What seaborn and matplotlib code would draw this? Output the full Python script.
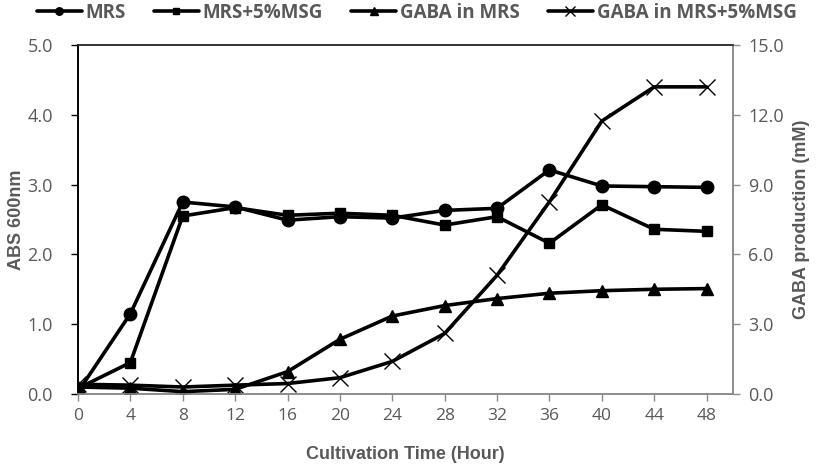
import numpy as np
import matplotlib
matplotlib.use("Agg")
import matplotlib.pyplot as plt
import seaborn as sns
from matplotlib.ticker import FormatStrFormatter

# data
hours = [0, 4, 8, 12, 16, 20, 24, 28, 32, 36, 40, 44, 48]
abs_mrs = [0.03, 1.15, 2.75, 2.68, 2.49, 2.54, 2.52, 2.63, 2.66, 3.21, 2.98, 2.97, 2.96]
abs_msg = [0.08, 0.45, 2.55, 2.67, 2.56, 2.59, 2.56, 2.42, 2.54, 2.16, 2.71, 2.36, 2.33]
gaba_mrs = [0.30, 0.25, 0.10, 0.20, 0.96, 2.35, 3.35, 3.80, 4.10, 4.33, 4.44, 4.50, 4.53]
gaba_msg = [0.42, 0.38, 0.30, 0.38, 0.45, 0.70, 1.40, 2.60, 5.10, 8.26, 11.73, 13.20, 13.20]

sns.set_style("white")
plt.rcParams["font.family"] = ["Open Sans", "DejaVu Sans"]

TICK_GRAY = "#595959"
LABEL_GRAY = "#595959"
SPINE_GRAY = "#8c8c8c"

fig = plt.figure(figsize=(8.27, 4.71), dpi=100)
ax = fig.add_axes([0.0943, 0.1635, 0.7917, 0.741])
ax2 = ax.twinx()

lw = 2.6
sns.lineplot(x=hours, y=abs_mrs, ax=ax, color="black", linewidth=lw, marker="o",
             markersize=9, markeredgecolor="black", markeredgewidth=1, label="MRS")
sns.lineplot(x=hours, y=abs_msg, ax=ax, color="black", linewidth=lw, marker="s",
             markersize=7, markeredgecolor="black", markeredgewidth=1, label="MRS+5%MSG")
sns.lineplot(x=hours, y=gaba_mrs, ax=ax2, color="black", linewidth=lw, marker="^",
             markersize=8.5, markeredgecolor="black", markeredgewidth=1, label="GABA in MRS")
sns.lineplot(x=hours, y=gaba_msg, ax=ax2, color="black", linewidth=lw, marker="x",
             markersize=11, markeredgecolor="black", markeredgewidth=1.0, label="GABA in MRS+5%MSG")

ax.set_xlim(0, 50)
ax.set_ylim(0, 5)
ax2.set_ylim(0, 15)
ax.set_xticks(hours)
ax.set_yticks(np.arange(0, 5.01, 1.0))
ax2.set_yticks(np.arange(0, 15.01, 3.0))
ax.yaxis.set_major_formatter(FormatStrFormatter("%.1f"))
ax2.yaxis.set_major_formatter(FormatStrFormatter("%.1f"))

ax.tick_params(axis="x", direction="out", length=5, width=1, color=SPINE_GRAY,
               labelsize=12.5, labelcolor=TICK_GRAY, pad=5, bottom=True)
ax.tick_params(axis="y", direction="out", length=5, width=1, color="black",
               labelsize=13, labelcolor=TICK_GRAY, pad=13, left=True)
ax2.tick_params(axis="y", direction="out", length=5, width=1, color=SPINE_GRAY,
                labelsize=13, labelcolor=TICK_GRAY, pad=6, right=True)

for a in (ax, ax2):
    for side in ["right", "bottom"]:
        a.spines[side].set_color(SPINE_GRAY)
        a.spines[side].set_linewidth(1.2)
    a.spines["top"].set_color("#333333")
    a.spines["top"].set_linewidth(1.2)
    a.spines["left"].set_color("black")
    a.spines["left"].set_linewidth(1.2)

label_font = dict(family=["Liberation Sans", "DejaVu Sans"], weight="bold",
                  size=13, color=LABEL_GRAY)
ax.set_xlabel("Cultivation Time (Hour)", labelpad=16, **label_font)
ax.set_ylabel("ABS 600nm", labelpad=2, **label_font)
ax2.set_ylabel("GABA production (mM)", labelpad=7, **label_font)

# one legend across the top
h1, l1 = ax.get_legend_handles_labels()
h2, l2 = ax2.get_legend_handles_labels()
ax.get_legend().remove()
ax2.get_legend().remove()
leg = fig.legend(h1 + h2, l1 + l2, loc="upper left", bbox_to_anchor=(0.024, 1.03),
                 ncol=4, frameon=False, handlelength=2.4, handletextpad=0.2,
                 columnspacing=1.5, markerscale=0.6,
                 prop=dict(family=["Open Sans", "DejaVu Sans"],
                           weight="bold", size=13.5))
for t in leg.get_texts():
    t.set_color("#595959")

fig.savefig("out.png", dpi=100)
